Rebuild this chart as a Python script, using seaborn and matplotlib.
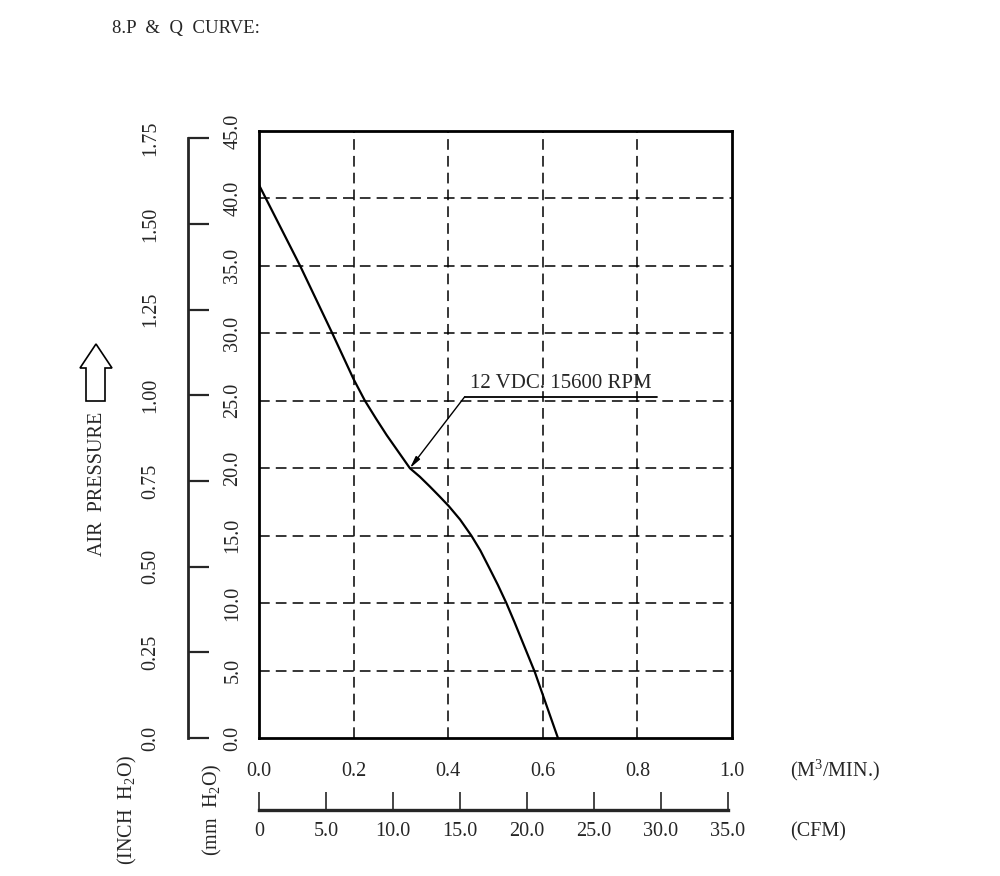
import numpy as np
import pandas as pd
import matplotlib
matplotlib.use("Agg")
import matplotlib.pyplot as plt
from matplotlib.patches import Polygon
import seaborn as sns

# P-Q curve (flow in m3/min, pressure in mm H2O)
flow = [0.0, 0.087, 0.155, 0.200, 0.224, 0.247, 0.270, 0.295, 0.319, 0.340, 0.361,
        0.382, 0.401, 0.425, 0.449, 0.468, 0.487, 0.505, 0.523, 0.540, 0.558,
        0.583, 0.600, 0.632]
pressure = [41.0, 35.0, 30.0, 26.6, 25.0, 23.7, 22.45, 21.2, 20.0, 19.37, 18.65,
            17.9, 17.2, 16.2, 15.0, 13.9, 12.6, 11.35, 10.0, 8.6, 7.05,
            4.9, 3.2, 0.0]
curve_label = "12 VDC. 15600 RPM"

mm_ticks = [0.0, 5.0, 10.0, 15.0, 20.0, 25.0, 30.0, 35.0, 40.0, 45.0]
inch_ticks = [0.0, 0.25, 0.50, 0.75, 1.00, 1.25, 1.50, 1.75]
flow_ticks = [0.0, 0.2, 0.4, 0.6, 0.8, 1.0]
cfm_ticks = [0, 5, 10, 15, 20, 25, 30, 35]
cfm_labels = ["0", "5.0", "10.0", "15.0", "20.0", "25.0", "30.0", "35.0"]

MM_PER_INCH = 25.4
CFM_PER_CMM = 35.3147

sns.set_style("white")
plt.rcParams["font.family"] = ["Liberation Serif", "DejaVu Serif"]
plt.rcParams["mathtext.default"] = "regular"
FS = 14.5

df = pd.DataFrame({"flow": flow, "pressure": pressure})

fig = plt.figure(figsize=(10, 8.76), dpi=100)
W, H = 1000, 876
def fx(px): return px / W
def fy(py): return 1 - py / H

x0, x1, ytop, ybot = 259, 732, 131, 738
ax = fig.add_axes([fx(x0), fy(ybot), fx(x1) - fx(x0), fy(ytop) - fy(ybot)])

sns.lineplot(data=df, x="flow", y="pressure", ax=ax, color="black", lw=1.6, sort=False)

ax.set_xlim(0, 1.0)
ax.set_ylim(0, 45)
ax.set_xlabel("")
ax.set_ylabel("")
for s in ax.spines.values():
    s.set_linewidth(2)
    s.set_color("black")

ax.set_xticks(flow_ticks)
ax.set_xticklabels([f"{v:.1f}" for v in flow_ticks], fontsize=FS)
ax.set_yticks(mm_ticks)
ax.set_yticklabels([f"{v:.1f}" for v in mm_ticks], fontsize=FS, rotation=90, va="center")
ax.tick_params(axis="x", length=0, pad=17)
ax.tick_params(axis="y", length=0, pad=12)

for v in flow_ticks[1:-1]:
    ax.axvline(v, color="black", lw=1.1, ls=(0, (7, 4)), zorder=1)
for v in mm_ticks[1:-1]:
    ax.axhline(v, color="black", lw=1.1, ls=(0, (7, 4)), zorder=1)

# curve label with leader line
ax.annotate("", xy=(0.319, 20.0), xytext=(0.435, 25.3),
            arrowprops=dict(arrowstyle="-|>,head_length=0.7,head_width=0.15",
                            color="black", lw=1.0, shrinkA=0, shrinkB=0))
ax.plot([0.435, 0.841], [25.3, 25.3], color="black", lw=1.3, zorder=3)
ax.text(0.447, 25.6, curve_label, fontsize=15, ha="left", va="bottom")

# inch H2O scale
axi = fig.add_axes([fx(188), fy(ybot), 0.02, fy(ytop) - fy(ybot)])
axi.set_facecolor("none")
axi.set_ylim(0, 45 / MM_PER_INCH)
axi.set_xlim(0, 1)
for k in ["top", "right", "bottom"]:
    axi.spines[k].set_visible(False)
axi.spines["left"].set_linewidth(2)
axi.spines["left"].set_bounds(0, 1.75)
axi.set_xticks([])
axi.set_yticks(inch_ticks)
axi.set_yticklabels(["0.0"] + [f"{v:.2f}" for v in inch_ticks[1:]], fontsize=FS,
                    rotation=90, va="center")
axi.tick_params(axis="y", direction="in", length=15, width=1.6, pad=20, left=True)

# CFM scale
axc = fig.add_axes([fx(x0), fy(810), fx(x1) - fx(x0), 0.02])
axc.set_facecolor("none")
axc.set_xlim(0, CFM_PER_CMM)
axc.set_ylim(0, 1)
for k in ["top", "right", "left"]:
    axc.spines[k].set_visible(False)
axc.spines["bottom"].set_linewidth(2.4)
axc.spines["bottom"].set_bounds(0, 35)
axc.set_yticks([])
axc.set_xticks(cfm_ticks)
axc.set_xticklabels(cfm_labels, fontsize=FS)
axc.tick_params(axis="x", direction="in", length=13, width=1.2, pad=9, bottom=True)

# text around the chart
fig.text(fx(112), fy(28), "8.P  &  Q  CURVE:", fontsize=13.5, ha="left", va="center")
fig.text(fx(790), fy(770), "(M$^{3}$/MIN.)", fontsize=FS, ha="left", va="center")
fig.text(fx(790), fy(832), "(CFM)", fontsize=FS, ha="left", va="center")
fig.text(fx(97), fy(484), "AIR  PRESSURE", fontsize=FS, rotation=90, ha="center", va="center")
fig.text(fx(127), fy(810), "(INCH  H$_{2}$O)", fontsize=FS, rotation=90, ha="center", va="center")
fig.text(fx(212), fy(810), "(mm  H$_{2}$O)", fontsize=FS, rotation=90, ha="center", va="center")

arrow_px = [(96, 344), (112, 368), (105, 368), (105, 401), (86, 401), (86, 368), (80, 368)]
fig.patches.append(Polygon([(fx(a), fy(b)) for a, b in arrow_px], closed=True,
                           transform=fig.transFigure, facecolor="white",
                           edgecolor="black", lw=1.2))

fig.savefig("out.png", dpi=100, facecolor="white")
